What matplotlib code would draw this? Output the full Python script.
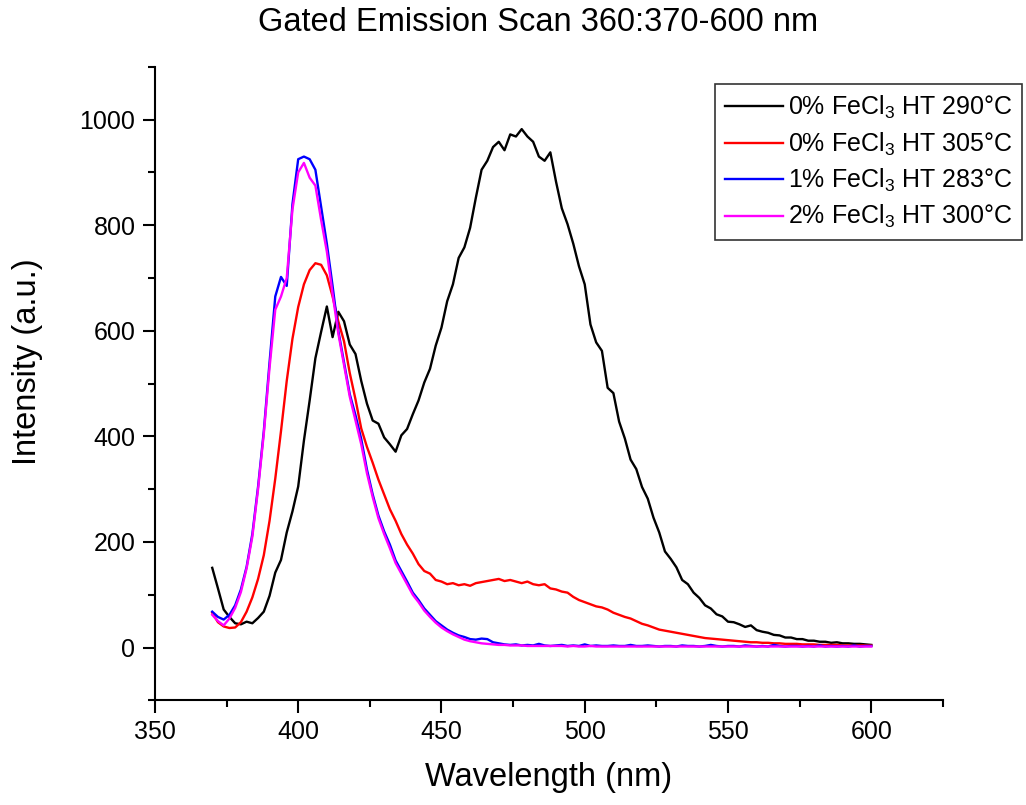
import numpy as np
import matplotlib
matplotlib.use('Agg')
from matplotlib import pyplot as plt
from matplotlib.ticker import MultipleLocator

plt.rcParams['font.family'] = ['Liberation Sans', 'DejaVu Sans']
plt.rcParams['mathtext.default'] = 'regular'

# wavelength grid (nm)
wavelength = np.arange(370, 601, 2)

# 0% FeCl3 HT 290 C
fecl0_290 = [151, 112, 72, 58, 46, 44, 49, 46, 56, 68,
             98, 142, 166, 218, 258, 305, 392, 468, 548, 598,
             646, 588, 636, 618, 574, 556, 505, 462, 430, 424,
             398, 385, 371, 402, 414, 442, 468, 502, 528, 572,
             606, 656, 688, 738, 758, 795, 852, 905, 922, 948,
             958, 942, 972, 968, 982, 968, 958, 930, 922, 938,
             882, 832, 802, 765, 722, 688, 612, 578, 562, 492,
             482, 428, 396, 356, 338, 304, 282, 246, 218, 182,
             168, 152, 128, 120, 104, 94, 80, 74, 63, 59,
             49, 48, 44, 39, 42, 33, 30, 28, 24, 23,
             19, 19, 16, 16, 13, 13, 11, 11, 9, 10,
             8, 8, 7, 7, 6, 5]

# 0% FeCl3 HT 305 C
fecl0_305 = [66, 48, 40, 37, 38, 48, 68, 95, 130, 175,
             240, 320, 410, 505, 585, 645, 688, 715, 728, 725,
             705, 665, 618, 580, 520, 470, 415, 380, 350, 318,
             290, 262, 240, 215, 195, 178, 158, 145, 140, 128,
             125, 120, 122, 118, 120, 117, 122, 124, 126, 128,
             130, 126, 128, 125, 122, 125, 120, 118, 120, 112,
             110, 106, 104, 96, 90, 86, 82, 78, 76, 72,
             66, 62, 58, 55, 50, 45, 42, 38, 34, 32,
             30, 28, 26, 24, 22, 20, 18, 17, 16, 15,
             14, 13, 12, 11, 10, 10, 9, 9, 8, 8,
             7, 7, 7, 6, 6, 6, 5, 5, 5, 5,
             4, 4, 4, 4, 4, 4]

# 1% FeCl3 HT 283 C
fecl1_283 = [68, 58, 53, 62, 80, 110, 153, 215, 305, 410,
             540, 665, 702, 685, 840, 925, 930, 925, 905, 835,
             765, 685, 600, 540, 480, 440, 395, 337, 290, 250,
             220, 195, 165, 145, 125, 104, 90, 74, 62, 50,
             42, 34, 28, 23, 20, 16, 15, 17, 16, 10,
             8, 6, 5, 6, 4, 5, 4, 7, 4, 3,
             4, 5, 3, 4, 3, 6, 3, 4, 3, 3,
             4, 3, 3, 5, 3, 3, 4, 3, 2, 3,
             3, 2, 4, 3, 3, 2, 3, 5, 3, 2,
             3, 3, 2, 4, 3, 2, 3, 2, 5, 3,
             2, 3, 3, 2, 3, 2, 4, 2, 3, 2,
             3, 2, 4, 2, 3, 3]

# 2% FeCl3 HT 300 C
fecl2_300 = [62, 50, 42, 55, 75, 105, 150, 210, 300, 405,
             530, 640, 665, 700, 830, 900, 918, 890, 875, 810,
             750, 670, 595, 535, 475, 430, 385, 330, 285, 245,
             215, 188, 160, 140, 120, 100, 86, 70, 58, 47,
             38, 31, 25, 20, 15, 12, 10, 8, 7, 6,
             5, 5, 4, 4, 4, 3, 3, 3, 3, 3,
             3, 3, 2, 3, 2, 2, 3, 2, 2, 2,
             2, 2, 2, 2, 2, 2, 2, 2, 2, 2,
             2, 2, 2, 2, 2, 2, 2, 2, 2, 2,
             2, 2, 2, 2, 2, 2, 2, 2, 2, 2,
             2, 2, 2, 2, 2, 2, 2, 2, 2, 2,
             2, 2, 2, 2, 2, 2]

labels = ['0% FeCl$_3$ HT 290°C', '0% FeCl$_3$ HT 305°C',
          '1% FeCl$_3$ HT 283°C', '2% FeCl$_3$ HT 300°C']
colors = ['black', '#ff0000', '#0000ff', '#ff00ff']

fig = plt.figure(figsize=(10.26, 8.05), dpi=100)
ax = fig.add_axes([0.151, 0.130, 0.768, 0.787])

for ys, lab, c in zip([fecl0_290, fecl0_305, fecl1_283, fecl2_300], labels, colors):
    ax.plot(wavelength, ys, color=c, lw=1.7, label=lab)

ax.set_xlim(350, 625)
ax.set_ylim(-100, 1100)
ax.xaxis.set_major_locator(MultipleLocator(50))
ax.xaxis.set_minor_locator(MultipleLocator(25))
ax.yaxis.set_major_locator(MultipleLocator(200))
ax.yaxis.set_minor_locator(MultipleLocator(100))
ax.set_xticks([350, 400, 450, 500, 550, 600])

for s in ['top', 'right']:
    ax.spines[s].set_visible(False)
for s in ['left', 'bottom']:
    ax.spines[s].set_linewidth(1.5)
ax.tick_params(which='major', length=9, width=1.5, labelsize=18, pad=5)
ax.tick_params(which='minor', length=5, width=1.5)

ax.set_xlabel('Wavelength (nm)', fontsize=23.5, labelpad=13)
ax.set_ylabel('Intensity (a.u.)', fontsize=23.5)
ax.yaxis.set_label_coords(-0.142, 0.534)
fig.text(0.524, 0.972, 'Gated Emission Scan 360:370-600 nm', fontsize=23.5,
         ha='center', va='center')

leg = ax.legend(loc='upper right', bbox_to_anchor=(1.101, 0.973), borderaxespad=0,
                fontsize=18, handlelength=2.3, handletextpad=0.2, labelspacing=0.37,
                fancybox=False, frameon=True, borderpad=0.4)
leg.get_frame().set_edgecolor('black')
leg.get_frame().set_linewidth(1.2)

fig.savefig('out.png', dpi=100)
